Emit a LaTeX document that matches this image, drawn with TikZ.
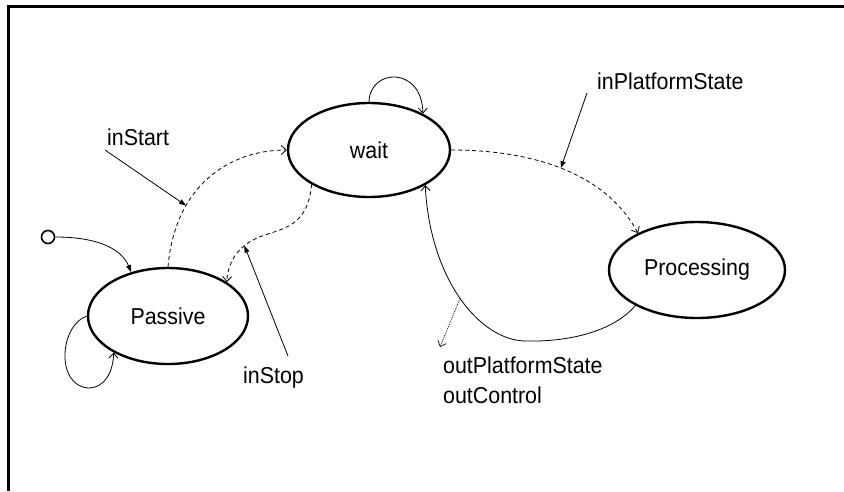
\documentclass[tikz,border=0pt]{standalone}
\usepackage{fontspec}
\setmainfont{Liberation Sans}[FakeStretch=0.93]
\usetikzlibrary{shapes.geometric,arrows.meta}

\begin{document}
\begin{tikzpicture}[x=1pt,y=-1pt,
  state/.style={ellipse,draw,line width=2.4pt,inner sep=0pt,
    font=\fontsize{23}{28}\selectfont},
  lbl/.style={inner sep=0pt,font=\fontsize{23}{28}\selectfont},
  startdot/.style={circle,draw,line width=1.6pt,minimum size=13pt,inner sep=0pt},
  link/.style={line width=0.8pt},
  trig/.style={line width=0.8pt,dash pattern=on 4pt off 3pt},
  openarr/.style={-{Straight Barb[length=5pt,width=9pt,line width=0.8pt]}},
  ptr/.style={line width=0.8pt,-{Triangle[length=7pt,width=5pt]}},
  emit/.style={line width=0.7pt,dash pattern=on 1pt off 1pt}
]
\useasboundingbox (0,0) rectangle (844,491);

% frame edges
\draw[line width=3pt] (8,491) -- (8,6) -- (844,6);

% states
\node[state,minimum width=160pt,minimum height=96pt] (passive) at (168,316) {Passive};
\node[state,minimum width=162pt,minimum height=94pt] (wait) at (369,150) {wait};
\node[state,minimum width=176pt,minimum height=96pt] (proc) at (697,270) {Processing};
\node[startdot] (init) at (48,237) {};

% initial transition
\draw[link,-{Triangle[length=7pt,width=5pt]}] (init.east) .. controls (100,237) and (122,250) .. (passive.130);

% self loops
\draw[link,openarr] (passive.west) .. controls (60,325) and (55,385) .. (88,388)
  .. controls (105,388) and (113,372) .. (passive.214);
\draw[link,openarr] (wait.north) .. controls (370,68) and (422,66) .. (wait.34);

% Passive -> wait
\draw[trig,openarr] (passive.north) .. controls (175,185) and (230,150) .. coordinate[pos=0.3] (startHit) (wait.west);
% wait -> Passive
\draw[trig,openarr] (wait.211) .. controls (308,225) and (285,228) .. (265,235)
  .. controls (240,243) and (228,260) .. coordinate[pos=0.33] (stopHit) (passive.30);
% wait -> Processing
\draw[trig,openarr] (wait.east) .. controls (540,150) and (608,177) .. coordinate[pos=0.47] (platHit) (proc.148);
% Processing -> wait
\draw[link,openarr] (proc.210) .. controls (610,335) and (560,342) .. (525,341)
  .. controls (480,340) and (430,280) .. coordinate[pos=0.5] (outTap) (wait.328);

% trigger labels and pointers
\node[lbl,anchor=base west] (inStart) at (107,145) {inStart};
\coordinate (inStartTail) at (105,150);
\draw[ptr] (inStartTail) -- (startHit);

\node[lbl,anchor=base west] (inStop) at (243,383) {inStop};
\coordinate (inStopTail) at (288,356);
\draw[ptr] (inStopTail) -- (stopHit);

\node[lbl,anchor=base west] (inPlat) at (597,89) {inPlatformState};
\coordinate (inPlatTail) at (587,93);
\draw[ptr] (inPlatTail) -- (platHit);

% output labels
\node[lbl,anchor=base west] (outPlat) at (443,373) {outPlatformState};
\node[lbl,anchor=base west] (outCtrl) at (443,403) {outControl};
\coordinate (outEnd) at (440,347);
\draw[emit,-{Straight Barb[length=5pt,width=9pt,line width=0.7pt]}] (outTap) -- (outEnd);
\end{tikzpicture}
\end{document}
